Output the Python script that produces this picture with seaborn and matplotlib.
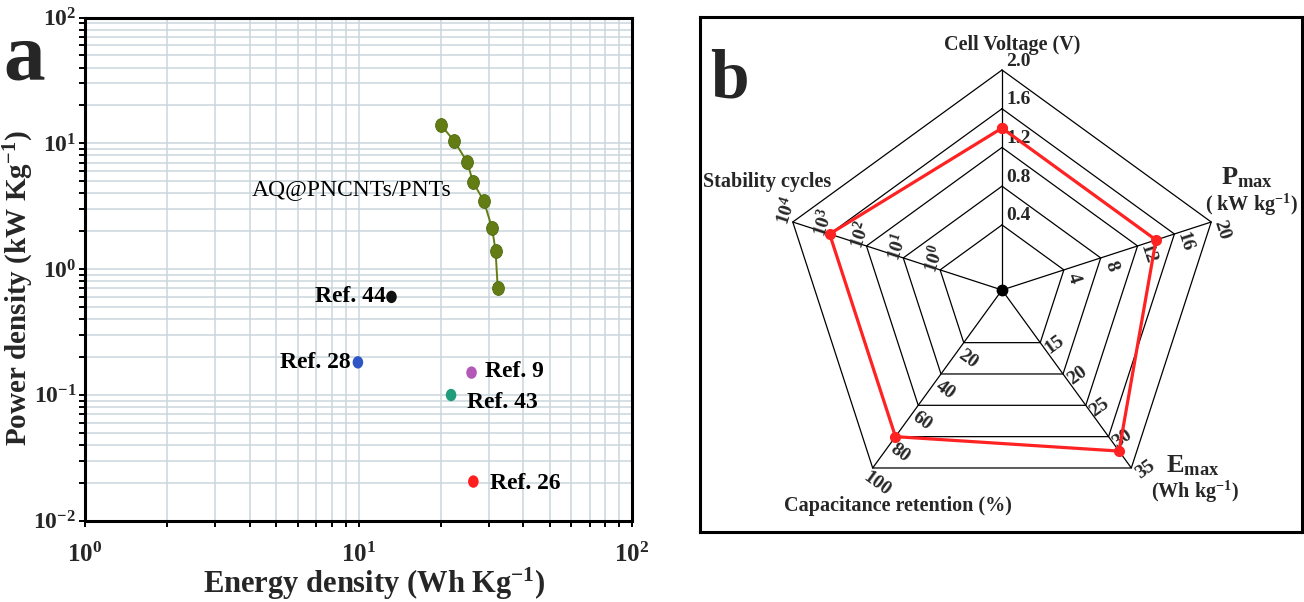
import numpy as np
import pandas as pd
import matplotlib
matplotlib.use("Agg")
import matplotlib.pyplot as plt
import seaborn as sns
from matplotlib.ticker import LogLocator, FuncFormatter, NullFormatter
from matplotlib.path import Path
from matplotlib.transforms import Affine2D

# ---------------- data : panel a ----------------
green_energy = [20.0, 22.4, 25.0, 26.2, 28.7, 30.8, 31.7, 32.3]
green_power = [14.0, 10.4, 7.06, 4.92, 3.49, 2.11, 1.40, 0.70]
green_label = "AQ@PNCNTs/PNTs"

ref_names = ["Ref. 44", "Ref. 28", "Ref. 9", "Ref. 43", "Ref. 26"]
ref_energy = [13.2, 9.95, 25.9, 21.8, 26.3]
ref_power = [0.60, 0.181, 0.150, 0.0995, 0.0204]
ref_colors = ["#111111", "#2f55c4", "#b458b8", "#1f9c7c", "#ff1f1f"]

# ---------------- data : panel b ----------------
radar_names = ["Cell Voltage (V)", "Pmax", "Emax", "Capacitance retention (%)", "Stability cycles"]
radar_values = [1.4, 14.0, 32.3, 80.0, 1000.0]
radar_low = [0.0, 0.0, 10.0, 0.0, -1.0]      # value at centre (log10 for cycles)
radar_high = [2.0, 20.0, 35.0, 100.0, 4.0]
radar_log = [False, False, False, False, True]
tick_voltage = ["0.4", "0.8", "1.2", "1.6", "2.0"]
tick_power = ["4", "8", "12", "16", "20"]
tick_energy = ["15", "20", "25", "30", "35"]
tick_retention = ["20", "40", "60", "80", "100"]
tick_cycles_exp = [0, 1, 2, 3, 4]

# ---------------- style ----------------
sns.set_theme(style="ticks")
plt.rcParams["font.family"] = ["Liberation Serif", "DejaVu Serif"]
plt.rcParams["mathtext.fontset"] = "custom"
plt.rcParams["mathtext.rm"] = "Liberation Serif"
plt.rcParams["mathtext.bf"] = "Liberation Serif:bold"
plt.rcParams["mathtext.it"] = "Liberation Serif:italic"

W, H = 1304, 602
fig = plt.figure(figsize=(W / 100, H / 100), dpi=100)
fig.patch.set_facecolor("white")

def px_rect(x0, y0, x1, y1):
    return [x0 / W, 1 - y1 / H, (x1 - x0) / W, (y1 - y0) / H]

ellipse = Path.unit_circle().transformed(Affine2D().scale(0.85, 1.0))

# ---------------- panel a ----------------
ax = fig.add_axes(px_rect(85, 17.5, 632, 520.5))
ax.set_xscale("log")
ax.set_yscale("log")
ax.set_xlim(1, 100)
ax.set_ylim(0.01, 100)
ax.set_axisbelow(True)
ax.grid(True, which="both", color="#c9d6dc", linewidth=1.1)

green = "#637d14"
df_green = pd.DataFrame({"E": green_energy, "P": green_power})
sns.lineplot(data=df_green, x="E", y="P", sort=False, estimator=None, ax=ax,
             color=green, linewidth=1.4, marker=ellipse, markersize=10,
             markeredgecolor="#4d6a0c", markeredgewidth=0.6, zorder=3)

df_ref = pd.DataFrame({"E": ref_energy, "P": ref_power, "ref": ref_names})
sns.scatterplot(data=df_ref, x="E", y="P", hue="ref", palette=ref_colors,
                legend=False, ax=ax, s=80, marker=ellipse, edgecolor="none", zorder=4)

label_offsets = {"Ref. 44": (-6, 0, "right"), "Ref. 28": (-7, 0, "right"),
                 "Ref. 9": (13, 1, "left"), "Ref. 43": (16, -7, "left"),
                 "Ref. 26": (17, -2, "left")}
for name, e, p in zip(ref_names, ref_energy, ref_power):
    dx, dy, ha = label_offsets[name]
    ax.annotate(name, xy=(e, p), xytext=(dx, dy), textcoords="offset pixels",
                ha=ha, va="center", fontsize=17, fontweight="bold", color="black")

ax.text(9.4, 4.25, green_label, ha="center", va="center", fontsize=17, color="black")

ax.xaxis.set_major_locator(LogLocator(base=10, numticks=10))
ax.yaxis.set_major_locator(LogLocator(base=10, numticks=10))
ax.xaxis.set_minor_locator(LogLocator(base=10, subs=np.arange(2, 10), numticks=20))
ax.yaxis.set_minor_locator(LogLocator(base=10, subs=np.arange(2, 10), numticks=20))
fmt = FuncFormatter(lambda v, p: r"$\mathbf{10^{%d}}$" % int(round(np.log10(v))))
ax.xaxis.set_major_formatter(fmt)
ax.yaxis.set_major_formatter(fmt)
ax.xaxis.set_minor_formatter(NullFormatter())
ax.yaxis.set_minor_formatter(NullFormatter())
ax.tick_params(which="both", direction="out", length=4.3, width=1.4, color="black",
               top=False, right=False)
ax.tick_params(axis="x", which="major", labelsize=18, pad=12)
ax.tick_params(axis="y", which="major", labelsize=17, pad=2)
for s in ax.spines.values():
    s.set_linewidth(2.2)
    s.set_color("black")
    s.set_visible(True)

ax.set_xlabel(r"Energy density (Wh Kg$^{\mathbf{-1}}$)", fontsize=22, fontweight="bold")
ax.set_ylabel(r"Power density (kW Kg$^{\mathbf{-1}}$)", fontsize=21, fontweight="bold")
ax.xaxis.set_label_coords((374 - 85) / 547, -(566 - 520.5) / 503)
ax.yaxis.set_label_coords((36 - 85) / 547, (520.5 - 288.5) / 503)

fig.text(3 / W, 1 - 79 / H, "a", fontsize=60, fontweight="bold", ha="left", va="baseline")

# ---------------- panel b ----------------
box = fig.add_axes(px_rect(700, 17, 1302, 532))
box.set_xticks([])
box.set_yticks([])
for s in box.spines.values():
    s.set_linewidth(2.2)
    s.set_color("black")
fig.text(710 / W, 1 - 97 / H, "b", fontsize=50, fontweight="bold", ha="left", va="baseline")

HOLE = 0.136
rb = fig.add_axes(px_rect(782, 70, 1222, 510), projection="polar")
rb.set_theta_offset(np.pi / 2)
rb.set_theta_direction(-1)
rb.set_ylim(-HOLE, 1.0)
rb.axis("off")

thetas = np.deg2rad(np.arange(5) * 72.0)
closed = np.append(thetas, thetas[0])
levels = np.arange(1, 6) / 5.0

for lv in levels:
    rb.plot(closed, np.full(6, lv), color="black", lw=0.9, clip_on=False, zorder=2)
for t in thetas:
    rb.plot([t, t], [-HOLE, 1.0], color="black", lw=0.9, clip_on=False, zorder=2)
rb.plot([0], [-HOLE], "o", color="black", ms=7.5, clip_on=False, zorder=3)

def normalise(v, lo, hi, lg):
    if lg:
        v = np.log10(v)
    return (v - lo) / (hi - lo)

u = [normalise(v, lo, hi, lg) for v, lo, hi, lg in zip(radar_values, radar_low, radar_high, radar_log)]
u_closed = np.append(u, u[0])
rb.plot(closed, u_closed, color="#ff2222", lw=2.3, marker="o", ms=7,
        clip_on=False, zorder=5)

tick_cycles = [r"$\mathbf{10^{%d}}$" % e for e in tick_cycles_exp]
tick_sets = [tick_voltage, tick_power, tick_energy, tick_retention, tick_cycles]
tick_style = [(4, 9, 0, "left"), (10, -8, -72, "center"), (14, -2, 36, "center"),
              (4, -16, -36, "center"), (-6, 11, 72, "center")]
for t, labels, (dx, dy, rot, ha) in zip(thetas, tick_sets, tick_style):
    for lv, lab in zip(levels, labels):
        rb.annotate(lab, xy=(t, lv), xytext=(dx, dy), textcoords="offset pixels",
                    ha=ha, va="center", rotation=rot,
                    fontsize=14, fontweight="bold", annotation_clip=False)

title_items = [
    (0, "Cell Voltage (V)", 10, 25, 14.5),
    (1, r"$\mathbf{P}_{\mathbf{max}}$", 36, 44, 19),
    (1, r"( kW kg$^{\mathbf{-1}}$)", 40, 17, 14.5),
    (2, r"$\mathbf{E}_{\mathbf{max}}$", 61, 2, 19),
    (2, r"(Wh kg$^{\mathbf{-1}}$)", 64, -23.5, 14.5),
    (3, "Capacitance retention (%)", 25.5, -38.5, 14.5),
    (4, "Stability cycles", -26, 40, 14.5),
]
for i, txt, dx, dy, fs in title_items:
    rb.annotate(txt, xy=(thetas[i], 1.0), xytext=(dx, dy), textcoords="offset pixels",
                ha="center", va="center", fontsize=fs, fontweight="bold",
                annotation_clip=False)

fig.savefig("out.png", dpi=100, facecolor="white")
